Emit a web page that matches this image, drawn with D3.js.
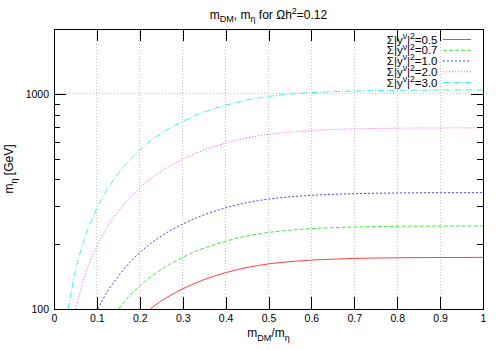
<!DOCTYPE html>
<html>
<head>
<meta charset="utf-8">
<script src="https://cdn.jsdelivr.net/npm/d3@7"></script>
<style>
  html, body { margin: 0; padding: 0; background: #fff; }
  svg { display: block; }
  text { font-family: "Liberation Sans", Arial, Helvetica, sans-serif; fill: #000; }
</style>
</head>
<body>
<svg id="chart" width="500" height="350"></svg>
<script>
// ---- data ----
const xTickValues = [0, 0.1, 0.2, 0.3, 0.4, 0.5, 0.6, 0.7, 0.8, 0.9, 1];
const xTickLabels = ["0", "0.1", "0.2", "0.3", "0.4", "0.5", "0.6", "0.7", "0.8", "0.9", "1"];
const yMajorTicks = [100, 1000];
const yMinorTicks = [200, 300, 400, 500, 600, 700, 800, 900, 2000];

const legendLabels = ["0.5", "0.7", "1.0", "2.0", "3.0"];

const redX = [0.224, 0.25, 0.3, 0.35, 0.4, 0.45, 0.5, 0.55, 0.6, 0.65, 0.7, 0.75, 0.8, 0.9, 1.0];
const redY = [100, 109, 124, 137, 147.5, 156, 162, 166, 168.8, 170.5, 171.8, 172.5, 173, 173.5, 173.7];

const greenX = [0.151, 0.175, 0.2, 0.25, 0.3, 0.35, 0.4, 0.45, 0.5, 0.55, 0.6, 0.65, 0.7, 0.75, 0.8, 0.9, 1.0];
const greenY = [100, 114.5, 128.1, 152.6, 173.6, 191.8, 206.5, 218.4, 226.8, 232.4, 236.3, 238.7, 240.5, 241.5, 242.2, 242.9, 243.1];

const blueX = [0.102, 0.125, 0.15, 0.175, 0.2, 0.25, 0.3, 0.35, 0.4, 0.45, 0.5, 0.55, 0.6, 0.65, 0.7, 0.75, 0.8, 0.9, 1.0];
const blueY = [100, 121, 142, 163, 183, 218, 248, 274, 295, 312, 324, 332, 337.5, 341, 343.5, 345, 346, 347, 347.3];

const magentaX = [0.05, 0.075, 0.1, 0.125, 0.15, 0.175, 0.2, 0.25, 0.3, 0.35, 0.4, 0.45, 0.5, 0.55, 0.6, 0.65, 0.7, 0.75, 0.8, 0.9, 1.0];
const magentaY = [100, 149, 196, 241, 284, 326, 366, 436, 496, 548, 590, 624, 648, 664, 675, 682, 687, 690, 692, 694, 694.6];

const cyanX = [0.033, 0.05, 0.075, 0.1, 0.125, 0.15, 0.175, 0.2, 0.25, 0.3, 0.35, 0.4, 0.45, 0.5, 0.55, 0.6, 0.65, 0.7, 0.75, 0.8, 0.9, 1.0];
const cyanY = [100, 150, 223.5, 294, 362, 426, 489, 549, 654, 744, 822, 885, 936, 972, 996, 1012, 1023, 1030, 1035, 1038, 1041, 1042];

// ---- layout ----
const L = 54, R = 483, T = 29, B = 309;
const svg = d3.select("#chart");

const x = d3.scaleLinear().domain([0, 1]).range([L, R]);
const y = d3.scaleLog().domain([100, 2000]).range([B, T]);

const series = [
  { xs: redX, ys: redY, color: "#ff0000", dash: null },
  { xs: greenX, ys: greenY, color: "#00e000", dash: "4,2" },
  { xs: blueX, ys: blueY, color: "#0000ff", dash: "2,2" },
  { xs: magentaX, ys: magentaY, color: "#ff00ff", dash: "1,2" },
  { xs: cyanX, ys: cyanY, color: "#00e8e8", dash: "6,2,1,2" }
];

// rich text helper: segments [text, mode] where mode is "", "sub", "sup"
function richText(sel, segs, size) {
  let shift = 0;
  segs.forEach(([t, mode]) => {
    const target = mode === "sub" ? size * 0.3 : mode === "sup" ? -size * 0.4 : 0;
    sel.append("tspan").text(t)
      .attr("dy", target - shift)
      .style("font-size", (mode ? size * 0.75 : size) + "px");
    shift = target;
  });
}

// ---- grid ----
const grid = svg.append("g");
xTickValues.filter(v => v > 0 && v < 1).forEach(v => {
  grid.append("line").attr("x1", x(v)).attr("x2", x(v)).attr("y1", T).attr("y2", B)
    .attr("stroke", "#c4c4c4").attr("stroke-width", 1).attr("stroke-dasharray", "1,2")
    .attr("shape-rendering", "crispEdges");
});
[1000].forEach(v => {
  grid.append("line").attr("x1", L).attr("x2", R).attr("y1", y(v)).attr("y2", y(v))
    .attr("stroke", "#c4c4c4").attr("stroke-width", 1).attr("stroke-dasharray", "1,2")
    .attr("shape-rendering", "crispEdges");
});

// ---- axes (ticks inward, mirrored) ----
const fmtX = (d) => xTickLabels[xTickValues.indexOf(d)];
const axB = svg.append("g").attr("transform", `translate(0,${B})`)
  .call(d3.axisBottom(x).tickValues(xTickValues).tickFormat(fmtX).tickSizeInner(-12).tickSizeOuter(0).tickPadding(6));
const axT = svg.append("g").attr("transform", `translate(0,${T})`)
  .call(d3.axisTop(x).tickValues(xTickValues).tickFormat("").tickSizeInner(-12).tickSizeOuter(0));
const axL = svg.append("g").attr("transform", `translate(${L},0)`)
  .call(d3.axisLeft(y).tickValues(yMajorTicks).tickFormat(d3.format("d")).tickSizeInner(-12).tickSizeOuter(0).tickPadding(5));
const axLm = svg.append("g").attr("transform", `translate(${L},0)`)
  .call(d3.axisLeft(y).tickValues(yMinorTicks).tickFormat("").tickSizeInner(-6).tickSizeOuter(0));
const axR = svg.append("g").attr("transform", `translate(${R},0)`)
  .call(d3.axisRight(y).tickValues(yMajorTicks).tickFormat("").tickSizeInner(-12).tickSizeOuter(0));
const axRm = svg.append("g").attr("transform", `translate(${R},0)`)
  .call(d3.axisRight(y).tickValues(yMinorTicks).tickFormat("").tickSizeInner(-6).tickSizeOuter(0));
[axB, axT, axL, axLm, axR, axRm].forEach(a => {
  a.select(".domain").remove();
  a.selectAll("line").attr("stroke", "#000").attr("shape-rendering", "crispEdges");
  a.selectAll("text").style("font-size", "10.5px").style("font-family", "'Liberation Sans', Arial, sans-serif");
});

// ---- curves ----
svg.append("clipPath").attr("id", "clip").append("rect")
  .attr("x", L).attr("y", T).attr("width", R - L).attr("height", B - T);
const line = d3.line().x(d => x(d[0])).y(d => y(d[1])).curve(d3.curveMonotoneX);
const curves = svg.append("g").attr("clip-path", "url(#clip)");
series.forEach(s => {
  const pts = s.xs.map((v, i) => [v, s.ys[i]]);
  curves.append("path").attr("d", line(pts)).attr("fill", "none")
    .attr("stroke", s.color).attr("stroke-width", 1).attr("stroke-opacity", 0.75)
    .attr("stroke-dasharray", s.dash);
});

// ---- border ----
svg.append("rect").attr("x", L).attr("y", T).attr("width", R - L).attr("height", B - T)
  .attr("fill", "none").attr("stroke", "#000").attr("stroke-width", 1)
  .attr("shape-rendering", "crispEdges");

// ---- legend ----
const lg = svg.append("g");
series.forEach((s, i) => {
  const ly = 39.5 + i * 10.75;
  const t = lg.append("text").attr("x", 437.5).attr("y", ly + 4).attr("text-anchor", "end");
  richText(t, [["\u03A3|y", ""], ["\u03BD", "sup"], ["|", ""], ["2", "sup"], ["=" + legendLabels[i], ""]], 11.5);
  lg.append("line").attr("x1", 443).attr("x2", 471).attr("y1", ly).attr("y2", ly)
    .attr("stroke", s.color).attr("stroke-width", 1).attr("stroke-opacity", 0.75)
    .attr("stroke-dasharray", s.dash);
});

// ---- title & labels ----
const title = svg.append("text").attr("x", (L + R) / 2).attr("y", 18.5).attr("text-anchor", "middle");
richText(title, [["m", ""], ["DM", "sub"], [", m", ""], ["\u03B7", "sub"], [" for \u03A9h", ""], ["2", "sup"], ["=0.12", ""]], 12);

const xl = svg.append("text").attr("x", (L + R) / 2).attr("y", 337).attr("text-anchor", "middle");
richText(xl, [["m", ""], ["DM", "sub"], ["/m", ""], ["\u03B7", "sub"]], 12);

const yl = svg.append("text").attr("transform", `translate(13,${(T + B) / 2}) rotate(-90)`).attr("text-anchor", "middle");
richText(yl, [["m", ""], ["\u03B7", "sub"], [" [GeV]", ""]], 12);
</script>
</body>
</html>
